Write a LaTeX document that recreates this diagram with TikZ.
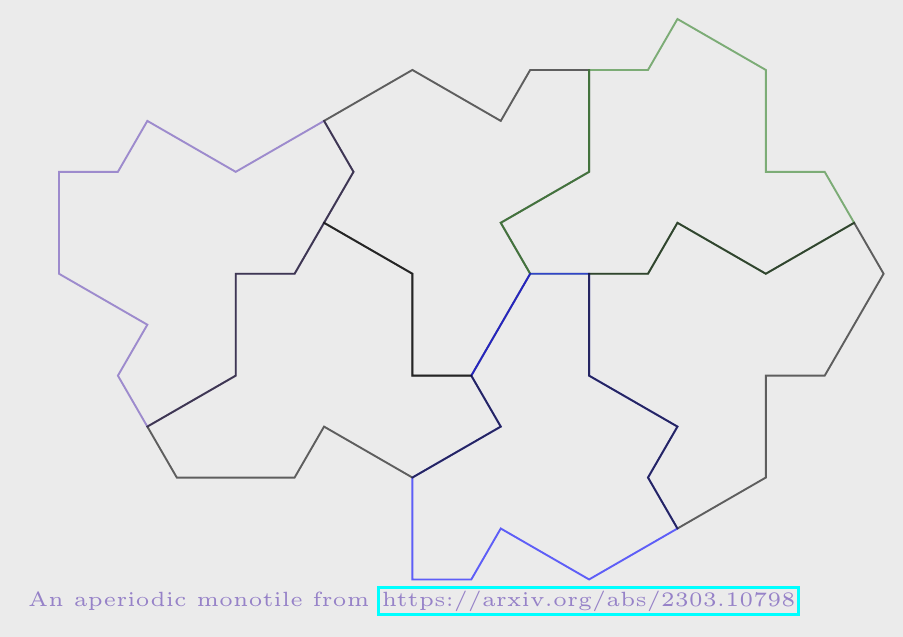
\documentclass[tikz,border=0pt]{standalone}
\usetikzlibrary{positioning}

\definecolor{bggray}{RGB}{235,235,235}
\definecolor{hatpurple}{RGB}{105,75,185}
\definecolor{hatgreen}{RGB}{50,130,40}
\definecolor{captext}{RGB}{150,130,200}
\definecolor{linkcyan}{RGB}{0,255,255}
\font\capfont=cmr5 at 20.6pt

\begin{document}
\begin{tikzpicture}[
x=29.45pt, y=-50.95pt,
hatline/.style={draw=#1, draw opacity=0.6, line width=1.9pt},
caption/.style={font=\capfont, text=captext, inner sep=0pt},
linkbox/.style={caption, draw=linkcyan, line width=3pt, inner sep=3pt}
]

% page
\fill[bggray] (-59pt,19pt) rectangle (844pt,-618pt);
\useasboundingbox (-59pt,19pt) rectangle (844pt,-618pt);

% hats
\draw[hatline=hatpurple] (3,2) -- (6,3) -- (9,2) -- (10,3) -- (9,4) -- (8,5) -- (6,5) -- (6,7)
  -- (3,8) -- (2,7) -- (3,6) -- (0,5) -- (0,3) -- (2,3) -- cycle;
\draw[hatline=black] (9,2) -- (12,1) -- (15,2) -- (16,1) -- (18,1) -- (18,3) -- (15,4) -- (16,5)
  -- (14,7) -- (12,7) -- (12,5) -- (9,4) -- (10,3) -- cycle;
\draw[hatline=hatgreen] (18,1) -- (20,1) -- (21,0) -- (24,1) -- (24,3) -- (26,3) -- (27,4) -- (24,5)
  -- (21,4) -- (20,5) -- (16,5) -- (15,4) -- (18,3) -- cycle;
\draw[hatline=blue] (16,5) -- (18,5) -- (18,7) -- (21,8) -- (20,9) -- (21,10) -- (18,11) -- (15,10)
  -- (14,11) -- (12,11) -- (12,9) -- (15,8) -- (14,7) -- cycle;
\draw[hatline=black] (3,8) -- (6,7) -- (6,5) -- (8,5) -- (9,4) -- (12,5) -- (12,7) -- (14,7)
  -- (15,8) -- (12,9) -- (9,8) -- (8,9) -- (4,9) -- cycle;
\draw[hatline=black] (18,5) -- (20,5) -- (21,4) -- (24,5) -- (27,4) -- (28,5) -- (26,7) -- (24,7)
  -- (24,9) -- (21,10) -- (20,9) -- (21,8) -- (18,7) -- cycle;

% caption
\coordinate (capstart) at (-31pt,-587pt);
\node[caption, anchor=base west] (cap) at (capstart) {An aperiodic monotile from};
\node[linkbox, right=7.5pt of cap.base east, anchor=base west] (url) {https://arxiv.org/abs/2303.10798};

\end{tikzpicture}
\end{document}
